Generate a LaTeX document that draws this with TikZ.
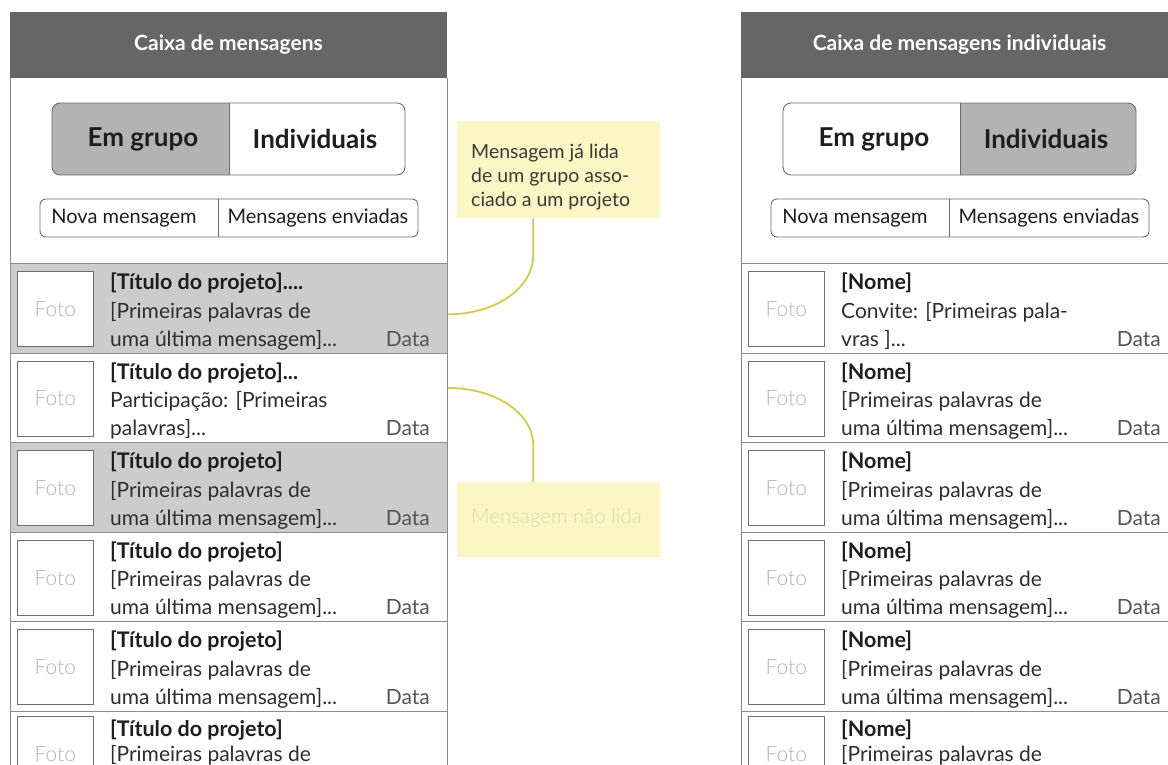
\documentclass[tikz,border=0pt]{standalone}
\usepackage{fontspec}
\setmainfont{Lato}
\newfontfamily\latolight{Lato Light}
\usetikzlibrary{calc}

\definecolor{hdr}{HTML}{666666}
\definecolor{unread}{HTML}{CCCCCC}
\definecolor{segsel}{HTML}{B3B3B3}
\definecolor{edge}{HTML}{8C8C8C}
\definecolor{ink}{HTML}{1E1E1E}
\definecolor{bodyink}{HTML}{2E2E2E}
\definecolor{dateink}{HTML}{555555}
\definecolor{fotoink}{HTML}{B5B5B5}
\definecolor{fotoedge}{HTML}{6E6E6E}
\definecolor{notefill}{HTML}{FBF6C4}
\definecolor{notelink}{HTML}{D6CA4A}
\definecolor{noteink}{HTML}{3A3A3A}
\definecolor{notefaint}{HTML}{DCD8B6}

\tikzset{
  row/.style={draw=edge, line width=1pt, inner sep=0pt, minimum width=437pt, minimum height=89.6pt},
  fotobox/.style={draw=fotoedge, line width=0.8pt, fill=white, inner sep=0pt,
    minimum width=76pt, minimum height=75pt, font=\latolight\fontsize{21}{24}\selectfont, text=fotoink},
  titletxt/.style={inner sep=0pt, font=\bfseries\fontsize{21.5}{24}\selectfont, text=ink},
  bodytxt/.style={inner sep=0pt, font=\fontsize{21}{24}\selectfont, text=bodyink},
  datatxt/.style={inner sep=0pt, font=\fontsize{21}{24}\selectfont, text=dateink},
  headtxt/.style={inner sep=0pt, font=\bfseries\fontsize{21}{24}\selectfont, text=white},
  segtxt/.style={inner sep=0pt, font=\bfseries\fontsize{26}{30}\selectfont, text=ink},
  smalltxt/.style={inner sep=0pt, font=\fontsize{20}{24}\selectfont, text=ink},
  notebox/.style={fill=notefill, inner sep=0pt, minimum width=203pt},
  notetxt/.style={inner sep=0pt, align=left, font=\fontsize{19.5}{24}\selectfont, text=noteink},
  notelight/.style={inner sep=0pt, font=\latolight\fontsize{20.5}{24}\selectfont, text=notefaint},
  link/.style={draw=notelink, line width=1.8pt},
  frame/.style={draw=edge, line width=1pt},
  segframe/.style={draw=fotoedge, line width=0.9pt},
}

% one message row: name, x offset, top, fill, title, line 2, line 3
\newcommand\msgrow[7]{%
  \node[row, fill=#4, anchor=north west] (#1) at (#2+10,#3) {};
  \node[fotobox, anchor=north west] (#1f) at (#2+17,#3+8) {Foto};
  \node[titletxt, anchor=base west] (#1t) at (#2+110,#3+26.5) {#5};
  \node[bodytxt, anchor=base west] (#1b) at (#2+110,#3+55) {#6};
  \node[bodytxt, anchor=base west] (#1c) at (#2+110,#3+83) {#7};
  \node[datatxt, anchor=base east] (#1d) at (#2+430,#3+83) {Data};
}
% last row, running off the bottom edge
\newcommand\lastrow[5]{%
  \node[row, fill=#4, anchor=north west] (#1) at (#2+10,#3) {};
  \node[fotobox, anchor=north west] (#1f) at (#2+17,#3+5) {Foto};
  \node[titletxt, anchor=base west] (#1t) at (#2+110,#3+25) {#5};
  \node[bodytxt, anchor=base west] (#1b) at (#2+110,#3+50) {[Primeiras palavras de};
}
% panel head, toggle and action buttons: x offset, title, which segment is selected (0 left / 1 right)
\newcommand\panelhead[3]{%
  \fill[hdr] (#1+10,12) rectangle (#1+447,78);
  \draw[frame] (#1+10,78) -- (#1+10,764);
  \draw[frame] (#1+447,78) -- (#1+447,764);
  \node[headtxt] at (#1+228.5,45) {#2};
  % toggle
  \fill[white, rounded corners=8pt] (#1+52,103) rectangle (#1+405,175);
  \begin{scope}
    \ifnum#3=0 \clip (#1+52,100) rectangle (#1+229,178);
    \else \clip (#1+229,100) rectangle (#1+405,178); \fi
    \fill[segsel, rounded corners=8pt] (#1+52,103) rectangle (#1+405,175);
  \end{scope}
  \draw[segframe, rounded corners=8pt] (#1+52,103) rectangle (#1+405,175);
  \draw[segframe] (#1+229,103) -- (#1+229,175);
  % actions
  \draw[segframe, fill=white, rounded corners=6pt] (#1+40,199) rectangle (#1+418,237);
  \draw[segframe] (#1+218,199) -- (#1+218,237);
}

\begin{document}
\begin{tikzpicture}[x=1pt,y=-1pt]
\useasboundingbox (0,0) rectangle (1168,764);
\clip (0,0) rectangle (1168,764);

% ---- group inbox ----
\panelhead{0}{Caixa de mensagens}{0}
\node[segtxt] (gA) at (143,139) {Em grupo};
\node[segtxt] (gB) at (315,139) {Individuais};
\node[smalltxt] (gN) at (124,218) {Nova mensagem};
\node[smalltxt] (gS) at (318,218) {Mensagens enviadas};

\msgrow{L1}{0}{263}{unread}{[Título do projeto]....}{[Primeiras palavras de}{uma última mensagem]...}
\msgrow{L2}{0}{352.6}{white}{[Título do projeto]...}{Participação: [Primeiras}{palavras]...}
\msgrow{L3}{0}{442.2}{unread}{[Título do projeto]}{[Primeiras palavras de}{uma última mensagem]...}
\msgrow{L4}{0}{531.8}{white}{[Título do projeto]}{[Primeiras palavras de}{uma última mensagem]...}
\msgrow{L5}{0}{621.4}{white}{[Título do projeto]}{[Primeiras palavras de}{uma última mensagem]...}
\lastrow{L6}{0}{711}{white}{[Título do projeto]}

% ---- individual inbox ----
\panelhead{731}{Caixa de mensagens individuais}{1}
\node[segtxt] (iA) at (874,139) {Em grupo};
\node[segtxt] (iB) at (1046,139) {Individuais};
\node[smalltxt] (iN) at (855,218) {Nova mensagem};
\node[smalltxt] (iS) at (1049,218) {Mensagens enviadas};

\msgrow{R1}{731}{263}{white}{[Nome]}{Convite: [Primeiras pala-}{vras ]...}
\msgrow{R2}{731}{352.6}{white}{[Nome]}{[Primeiras palavras de}{uma última mensagem]...}
\msgrow{R3}{731}{442.2}{white}{[Nome]}{[Primeiras palavras de}{uma última mensagem]...}
\msgrow{R4}{731}{531.8}{white}{[Nome]}{[Primeiras palavras de}{uma última mensagem]...}
\msgrow{R5}{731}{621.4}{white}{[Nome]}{[Primeiras palavras de}{uma última mensagem]...}
\lastrow{R6}{731}{711}{white}{[Nome]}

% ---- notes ----
\node[notebox, minimum height=97pt, anchor=north west] (note1) at (457,121) {};
\node[notetxt, anchor=base west] (note1t) at (471,206) {Mensagem já lida\\de um grupo asso-\\ciado a um projeto};
\node[notebox, minimum height=75pt, anchor=north west] (note2) at (457,482) {};
\node[notelight, anchor=base west] (note2t) at (471,523) {Mensagem não lida};

\draw[link] ([xshift=-25.5pt]note1.south) -- ++(0,37)
  .. controls +(0,33) and +(47,0) .. ([yshift=-6pt]L1.east);
\draw[link] ([yshift=10pt]L2.east) .. controls +(47,0) and +(0,-32) .. ($([xshift=-25.5pt]note2.north)+(0,-37)$)
  -- ([xshift=-25.5pt]note2.north);
\end{tikzpicture}
\end{document}
